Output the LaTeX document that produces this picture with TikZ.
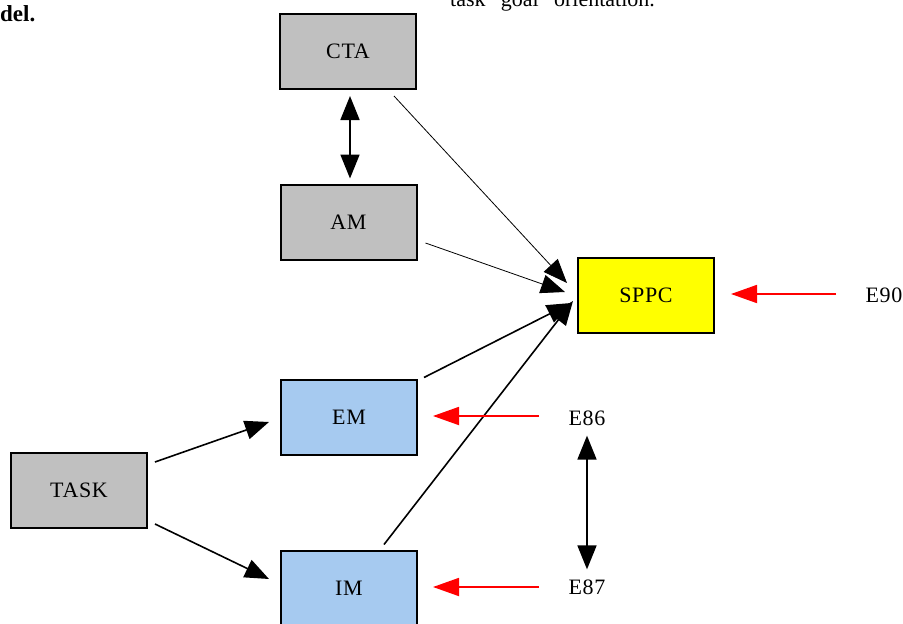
\documentclass[tikz,border=0pt]{standalone}
\usepackage{fontspec}
\setmainfont{Liberation Serif}
\newfontfamily\spacedserif[LetterSpace=3]{Liberation Serif}
\usetikzlibrary{arrows.meta,calc}
\definecolor{boxgray}{HTML}{C0C0C0}
\definecolor{boxblue}{HTML}{A6CAF0}
\definecolor{boxyellow}{HTML}{FFFF00}
\tikzset{
  box/.style={draw=black, line width=2pt, minimum width=136pt, minimum height=75pt, inner sep=0pt, font=\spacedserif\fontsize{22}{25}\selectfont},
  lbl/.style={inner sep=0pt, font=\spacedserif\fontsize{22}{25}\selectfont},
  bigtip/.tip={Triangle[length=24pt,width=19pt]},
  thickarr/.style={line width=1.6pt, -bigtip},
  thinarr/.style={line width=0.8pt, -bigtip},
  dblarr/.style={line width=1.8pt, bigtip-bigtip},
  redarr/.style={draw=red, line width=1.8pt, -{Triangle[length=26pt,width=18pt]}, red},
}
\begin{document}
\begin{tikzpicture}[x=1pt,y=-1pt]
\useasboundingbox (0,0) rectangle (903,624);
\clip (0,0) rectangle (903,624);
% page fragments
\node[anchor=base west, inner sep=0pt, font=\fontsize{23}{26}\selectfont\bfseries] (frag1) at (0,21) {del.};
\node[anchor=base west, inner sep=0pt, font=\fontsize{22}{25}\selectfont] (frag2) at (450,6) {task” goal” orientation.};
% boxes
\node[box, fill=boxgray] (cta) at (348,51.5) {CTA};
\node[box, fill=boxgray] (am) at (348.5,222) {AM};
\node[box, fill=boxyellow] (sppc) at (646,295) {SPPC};
\node[box, fill=boxblue] (em) at (349,417) {EM};
\node[box, fill=boxblue] (im) at (349,588) {IM};
\node[box, fill=boxgray] (task) at (79,490.5) {TASK};
% labels
\node[lbl] (e90) at (884,295) {E90};
\node[lbl] (e86) at (587,418) {E86};
\node[lbl] (e87) at (587,587) {E87};
% connectors
\draw[dblarr] ($(cta.south)+(2,6)$) -- ($(am.north)+(1.5,-5)$);
\draw[thinarr] ($(cta.south east)+(-23,6)$) -- ($(sppc.west)+(-10,-12)$);
\draw[thinarr] ($(am.east)+(8,21)$) -- ($(sppc.west)+(-12,-3)$);
\draw[thickarr] ($(em.north east)+(6,-1)$) -- ($(sppc.west)+(-6,8)$);
\draw[thickarr] ($(im.north)+(35,-5)$) -- ($(sppc.west)+(-4,6)$);
\draw[thickarr] ($(task.north east)+(7,10)$) -- ($(em.west)+(-11,5)$);
\draw[thickarr] ($(task.south east)+(7,-5)$) -- ($(im.west)+(-11,-9)$);
\draw[redarr] (836,294) coordinate (e90s) -- ($(sppc.east)+(16,-1)$);
\draw[redarr] (539,416) coordinate (e86s) -- ($(em.east)+(15,-1)$);
\draw[redarr] (539,587) coordinate (e87s) -- ($(im.east)+(15,-1)$);
\draw[dblarr] ($(e86.south)+(0,10)$) -- ($(e87.north)+(0,-10)$);
\end{tikzpicture}
\end{document}
